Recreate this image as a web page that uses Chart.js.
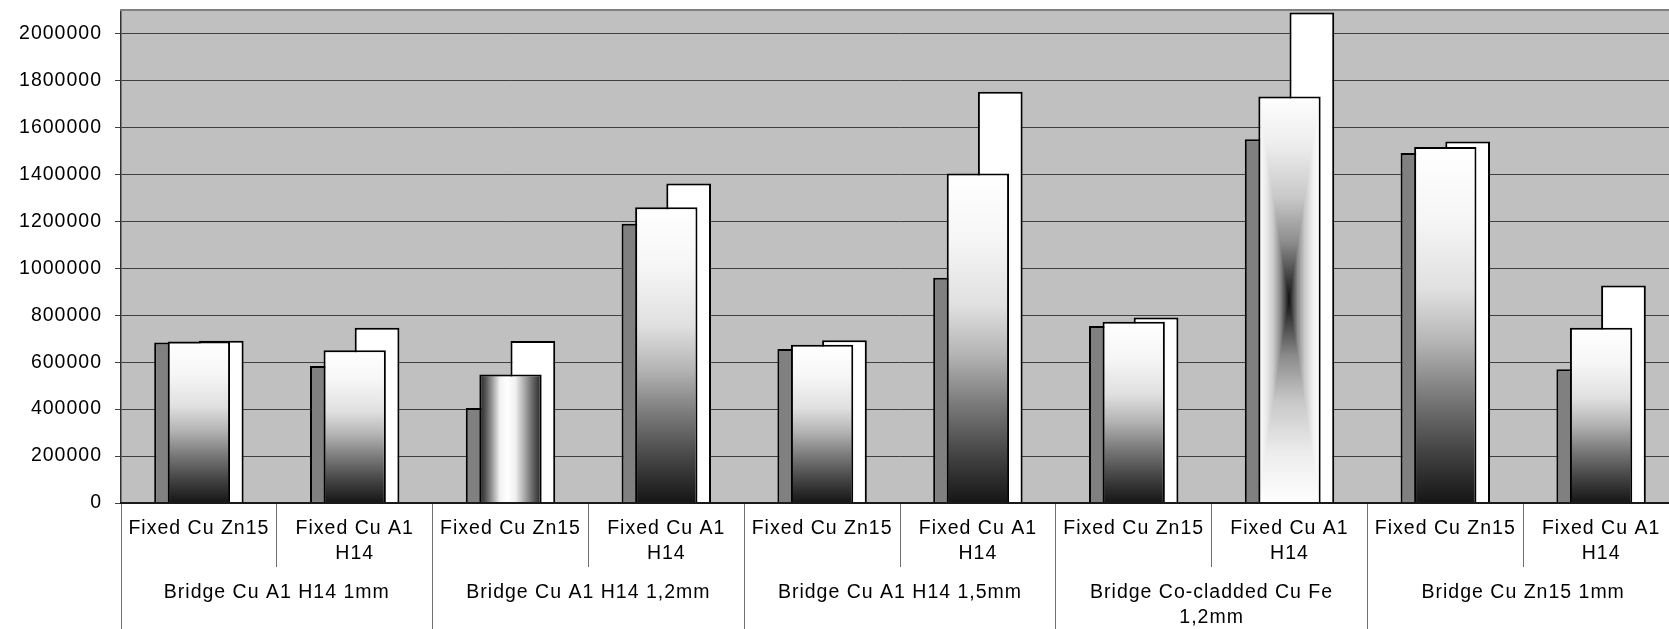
<!DOCTYPE html>
<html>
<head>
<meta charset="utf-8">
<title>Bridge fatigue cycles</title>
<script src="https://cdn.jsdelivr.net/npm/chart.js@4/dist/chart.umd.min.js"></script>
<style>
  html, body { margin: 0; padding: 0; overflow: hidden; background: #ffffff; }
  canvas { display: block; }
</style>
</head>
<body>
<canvas id="chart" width="1679" height="629"></canvas>
<script>
// ---- data -------------------------------------------------------------
const categories = [
  'Fixed Cu Zn15', ['Fixed Cu A1', 'H14'],
  'Fixed Cu Zn15', ['Fixed Cu A1', 'H14'],
  'Fixed Cu Zn15', ['Fixed Cu A1', 'H14'],
  'Fixed Cu Zn15', ['Fixed Cu A1', 'H14'],
  'Fixed Cu Zn15', ['Fixed Cu A1', 'H14']
];
const groups = [
  'Bridge Cu A1 H14 1mm',
  'Bridge Cu A1 H14 1,2mm',
  'Bridge Cu A1 H14 1,5mm',
  ['Bridge Co-cladded Cu Fe', '1,2mm'],
  'Bridge Cu Zn15 1mm'
];
const seriesBack  = [684000, 584000, 405000, 1190000, 656000,  960000, 754000, 1549000, 1491000, 570000];
const seriesFront = [688000, 651000, 547000, 1260000, 674000, 1404000, 772000, 1732000, 1516000, 746000];
const seriesRight = [691000, 747000, 690000, 1361000, 693000, 1752000, 790000, 2089000, 1540000, 927000];
const yTickValues = [0, 200000, 400000, 600000, 800000, 1000000, 1200000, 1400000, 1600000, 1800000, 2000000];
const yMax = 2100000;

// ---- styling ----------------------------------------------------------
const FONT = { family: "'Liberation Sans', Arial, sans-serif", size: 19.5, lineHeight: 1.28 };
const PAIR_PCT = 0.574;   // share of a category used by the two rear bars
const FRONT_PCT = 0.4;    // share of a category used by the front bar
// fill kind for each front bar: vertical shade, cylinder, centre glow
const frontFillKind = ['v', 'v', 'cyl', 'v', 'v', 'v', 'v', 'rect', 'v', 'v'];

const V_STOPS = [[0, 255], [0.2, 246], [0.4, 224], [0.55, 180], [0.7, 122], [0.85, 69], [1, 21]];
const CYL_STOPS = [[0, 34], [0.1, 84], [0.22, 164], [0.33, 242], [0.45, 255], [0.58, 240], [0.72, 172], [0.86, 100], [1, 34]];
const RECT_STOPS = [[0, 16], [0.12, 70], [0.28, 140], [0.5, 200], [0.75, 236], [1, 255]];

function grey(v) { v = Math.round(v); return 'rgb(' + v + ',' + v + ',' + v + ')'; }

function ramp(stops, t) {
  if (t <= stops[0][0]) return stops[0][1];
  for (let i = 1; i < stops.length; i++) {
    if (t <= stops[i][0]) {
      const [p0, g0] = stops[i - 1], [p1, g1] = stops[i];
      return g0 + (g1 - g0) * (t - p0) / (p1 - p0);
    }
  }
  return stops[stops.length - 1][1];
}

function linear(ctx, x0, y0, x1, y1, stops) {
  const g = ctx.createLinearGradient(x0, y0, x1, y1);
  stops.forEach(([p, v]) => g.addColorStop(p, grey(v)));
  return g;
}

// rectangular "from centre" shading: dark in the middle, white at every edge
function centreGlow(ctx, left, top, w, h) {
  const cw = Math.max(1, Math.round(w)), ch = Math.max(1, Math.round(h));
  const off = document.createElement('canvas');
  off.width = cw; off.height = ch;
  const octx = off.getContext('2d');
  const img = octx.createImageData(cw, ch);
  for (let j = 0; j < ch; j++) {
    const dy = Math.abs(j + 0.5 - ch / 2) / (ch / 2);
    for (let i = 0; i < cw; i++) {
      const dx = Math.abs(i + 0.5 - cw / 2) / (cw / 2);
      const g = Math.round(ramp(RECT_STOPS, Math.max(dx, dy)));
      const k = (j * cw + i) * 4;
      img.data[k] = img.data[k + 1] = img.data[k + 2] = g;
      img.data[k + 3] = 255;
    }
  }
  octx.putImageData(img, 0, 0);
  const pat = ctx.createPattern(off, 'no-repeat');
  pat.setTransform(new DOMMatrix().translateSelf(Math.round(left), Math.round(top)));
  return pat;
}

function frontFill(c) {
  if (c.type !== 'data') return '#ffffff';
  const chart = c.chart;
  const xs = chart.scales.x, ys = chart.scales.y;
  if (!xs || !ys || !chart.chartArea) return '#ffffff';
  const ctx = chart.ctx;
  const i = c.dataIndex;
  const cx = xs.getPixelForValue(i);
  const step = Math.abs(xs.getPixelForValue(1) - xs.getPixelForValue(0));
  const w = step * FRONT_PCT;
  const left = cx - w / 2, right = cx + w / 2;
  const top = ys.getPixelForValue(c.raw), base = ys.getPixelForValue(0);
  const kind = frontFillKind[i];
  if (kind === 'cyl') return linear(ctx, left, 0, right, 0, CYL_STOPS);
  if (kind === 'rect') return centreGlow(ctx, left, top, w, base - top);
  return linear(ctx, 0, top, 0, base, V_STOPS);
}

// plot area fill
const plotBackground = {
  id: 'plotBackground',
  beforeDraw(chart) {
    const { ctx, chartArea: a } = chart;
    ctx.save();
    ctx.fillStyle = '#c0c0c0';
    ctx.fillRect(a.left, a.top, a.right - a.left, a.bottom - a.top);
    ctx.restore();
  }
};

// slightly wider text tracking
const textTracking = {
  id: 'textTracking',
  beforeUpdate(chart) { chart.ctx.letterSpacing = '1px'; },
  beforeDraw(chart) { chart.ctx.letterSpacing = '1px'; }
};

function flatPadding(s) { s.paddingLeft = 0; s.paddingRight = 0; s.paddingTop = 0; s.paddingBottom = 0; }

new Chart(document.getElementById('chart'), {
  type: 'bar',
  data: {
    labels: categories,
    datasets: [
      {
        label: 'Series 1', data: seriesBack, order: 1,
        xAxisID: 'x', yAxisID: 'y',
        backgroundColor: '#808080', borderColor: '#000000', borderWidth: 2,
        categoryPercentage: PAIR_PCT, barPercentage: 1
      },
      {
        label: 'Series 3', data: seriesRight, order: 2,
        xAxisID: 'x', yAxisID: 'y',
        backgroundColor: '#ffffff', borderColor: '#000000', borderWidth: 2,
        categoryPercentage: PAIR_PCT, barPercentage: 1
      },
      {
        label: 'Series 2', data: seriesFront, order: 0,
        xAxisID: 'x', yAxisID: 'y', grouped: false,
        backgroundColor: frontFill, borderColor: '#000000', borderWidth: 2,
        categoryPercentage: FRONT_PCT, barPercentage: 1
      }
    ]
  },
  options: {
    responsive: false,
    animation: false,
    events: [],
    devicePixelRatio: 1,
    layout: { padding: { top: 10, right: 0, bottom: 0, left: 0 } },
    plugins: { legend: { display: false }, tooltip: { enabled: false } },
    scales: {
      y: {
        type: 'linear', position: 'left',
        min: 0, max: yMax, bounds: 'data',
        afterBuildTicks(s) { s.ticks = yTickValues.map((v) => ({ value: v })); },
        ticks: {
          padding: 13, color: '#000000', font: FONT,
          callback: (v) => String(v)
        },
        grid: { color: '#404040', lineWidth: 1, drawTicks: true, tickLength: 6, tickColor: '#404040' },
        border: { display: true, color: '#303030', width: 1.5 },
        afterFit(s) { s.width = 121; flatPadding(s); }
      },
      x: {
        type: 'category', position: 'bottom', weight: 0, offset: true,
        grid: { offset: true, drawOnChartArea: false, drawTicks: true, tickLength: 64, color: '#707070', lineWidth: 1 },
        border: { display: true, color: '#1a1a1a', width: 2, z: 1 },
        ticks: { autoSkip: false, maxRotation: 0, minRotation: 0, padding: -50.5, color: '#000000', font: FONT },
        afterFit(s) { s.height = 64; flatPadding(s); }
      },
      x2: {
        type: 'category', labels: groups, position: 'bottom', weight: 1, offset: true,
        grid: { offset: true, drawOnChartArea: false, drawTicks: true, tickLength: 62, color: '#707070', lineWidth: 1 },
        border: { display: false },
        ticks: { autoSkip: false, maxRotation: 0, minRotation: 0, padding: -48.5, color: '#000000', font: FONT },
        afterFit(s) { s.height = 62; flatPadding(s); }
      },
      xTop: {
        type: 'category', labels: categories, position: 'top', offset: true,
        grid: { offset: true, display: true, drawOnChartArea: false, drawTicks: false },
        border: { display: true, color: '#808080', width: 2 },
        ticks: { display: false },
        afterFit(s) { s.height = 0; flatPadding(s); }
      }
    }
  },
  plugins: [plotBackground, textTracking]
});
</script>
</body>
</html>
